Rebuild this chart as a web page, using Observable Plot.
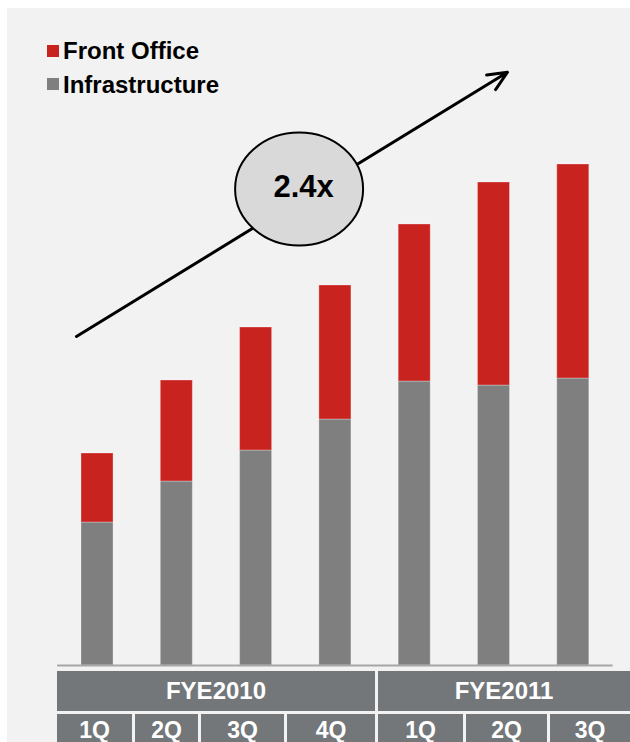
<!DOCTYPE html>
<html>
<head>
<meta charset="utf-8">
<script src="https://cdn.jsdelivr.net/npm/d3@7"></script>
<script src="https://cdn.jsdelivr.net/npm/@observablehq/plot@0.6"></script>
<style>
html, body { margin: 0; padding: 0; background: #fff; overflow: hidden; }
#page { position: relative; width: 630px; height: 742px; overflow: hidden; font-family: "Liberation Sans", Arial, sans-serif; }
#panel { position: absolute; left: 7px; top: 8px; right: 0; bottom: 0; background: #f2f2f2; }
#chart { position: absolute; left: 0; top: 0; }
.sw { position: absolute; width: 12px; height: 12px; }
.lt { position: absolute; font-weight: bold; font-size: 24px; line-height: 24px; color: #000; white-space: nowrap; }
.cell { position: absolute; background: #73777a; color: #fff; font-weight: bold; text-align: center; white-space: nowrap; }
</style>
</head>
<body>
<div id="page">
  <div id="panel"></div>
  <div id="chart"></div>
  <div id="legend"></div>
  <div id="table"></div>
</div>
<script>
// ---- data ----
const periods = ["FYE2010 1Q", "FYE2010 2Q", "FYE2010 3Q", "FYE2010 4Q", "FYE2011 1Q", "FYE2011 2Q", "FYE2011 3Q"];
const fiscalYears = ["FYE2010", "FYE2011"];
const quarterLabels = ["1Q", "2Q", "3Q", "4Q", "1Q", "2Q", "3Q"];
const seriesNames = ["Infrastructure", "Front Office"];
const infrastructure = [143, 184, 215, 246, 284, 280, 287];
const frontOffice = [69, 101, 123, 134, 157, 203, 214];
const growthLabel = "2.4x";
const legendOrder = ["Front Office", "Infrastructure"];

// ---- build table for the library ----
const rows = periods.flatMap((p, i) => [
  {period: p, series: "Infrastructure", value: infrastructure[i]},
  {period: p, series: "Front Office", value: frontOffice[i]}
]);
const colors = {"Infrastructure": "#7f7f7f", "Front Office": "#c9231f"};

const ellipseSymbol = {
  draw(ctx, size) {
    const r = Math.sqrt(size / Math.PI);
    const rx = r * 64 / 56.5, ry = r, k = 0.5522847498;
    ctx.moveTo(rx, 0);
    ctx.bezierCurveTo(rx, ry * k, rx * k, ry, 0, ry);
    ctx.bezierCurveTo(-rx * k, ry, -rx, ry * k, -rx, 0);
    ctx.bezierCurveTo(-rx, -ry * k, -rx * k, -ry, 0, -ry);
    ctx.bezierCurveTo(rx * k, -ry, rx, -ry * k, rx, 0);
    ctx.closePath();
  }
};

const chart = Plot.plot({
  width: 630,
  height: 671,
  marginLeft: 57.2,
  marginRight: 17.4,
  marginTop: 65,
  marginBottom: 6,
  style: {background: "transparent", overflow: "visible"},
  x: {type: "band", domain: periods, paddingInner: 0.596, paddingOuter: 0.3, round: false, axis: null},
  y: {domain: [0, 600], axis: null},
  color: {domain: seriesNames, range: seriesNames.map(s => colors[s])},
  marks: [
    Plot.barY(rows, {x: "period", y: "value", fill: "series", stroke: "white", strokeOpacity: 0.3, strokeWidth: 1}),
    Plot.ruleY([0], {stroke: "#a6a6a6", strokeWidth: 2}),
    Plot.arrow([{from: periods[0], to: periods[5], y1: 342, y2: 585}], {
      x1: "from", x2: "to", y1: "y1", y2: "y2",
      insetStart: -24.7, insetEnd: -15.8,
      stroke: "#000", strokeWidth: 3, headLength: 10.5, headAngle: 48
    }),
    Plot.dot([growthLabel], {x: () => periods[2], y: () => 476.5, dx: 43, r: 56.5, symbol: ellipseSymbol, fill: "#d9d9d9", stroke: "#000", strokeWidth: 2}),
    Plot.text([growthLabel], {x: () => periods[2], y: () => 478, dx: 47.5, text: d => d, fontSize: 31, fontWeight: "bold", fill: "#000", fontFamily: "Liberation Sans, Arial, sans-serif"})
  ]
});
document.getElementById("chart").append(chart);

// ---- legend ----
const legend = document.getElementById("legend");
const legendTops = [39, 72.5];
legendOrder.forEach((name, i) => {
  const sw = document.createElement("div");
  sw.className = "sw";
  sw.style.left = "47px";
  sw.style.top = (legendTops[i] + 5.5) + "px";
  sw.style.background = colors[name];
  legend.append(sw);
  const t = document.createElement("div");
  t.className = "lt";
  t.style.left = "63px";
  t.style.top = legendTops[i] + "px";
  t.textContent = name;
  legend.append(t);
});

// ---- category table below the chart ----
const table = document.getElementById("table");
const yearCells = [[57, 375], [378, 630]];
const qCells = [[57, 132], [135, 198], [201, 284], [287, 375], [378, 463], [466, 547], [550, 630]];
fiscalYears.forEach((fy, i) => {
  const c = document.createElement("div");
  c.className = "cell";
  c.style.left = yearCells[i][0] + "px";
  c.style.width = (yearCells[i][1] - yearCells[i][0]) + "px";
  c.style.top = "671px";
  c.style.height = "40px";
  c.style.lineHeight = "40px";
  c.style.fontSize = "24px";
  c.textContent = fy;
  table.append(c);
});
quarterLabels.forEach((q, i) => {
  const c = document.createElement("div");
  c.className = "cell";
  c.style.left = qCells[i][0] + "px";
  c.style.width = (qCells[i][1] - qCells[i][0]) + "px";
  c.style.top = "714px";
  c.style.height = "40px";
  c.style.lineHeight = "33px";
  c.style.fontSize = "23px";
  c.textContent = q;
  table.append(c);
});
</script>
</body>
</html>
